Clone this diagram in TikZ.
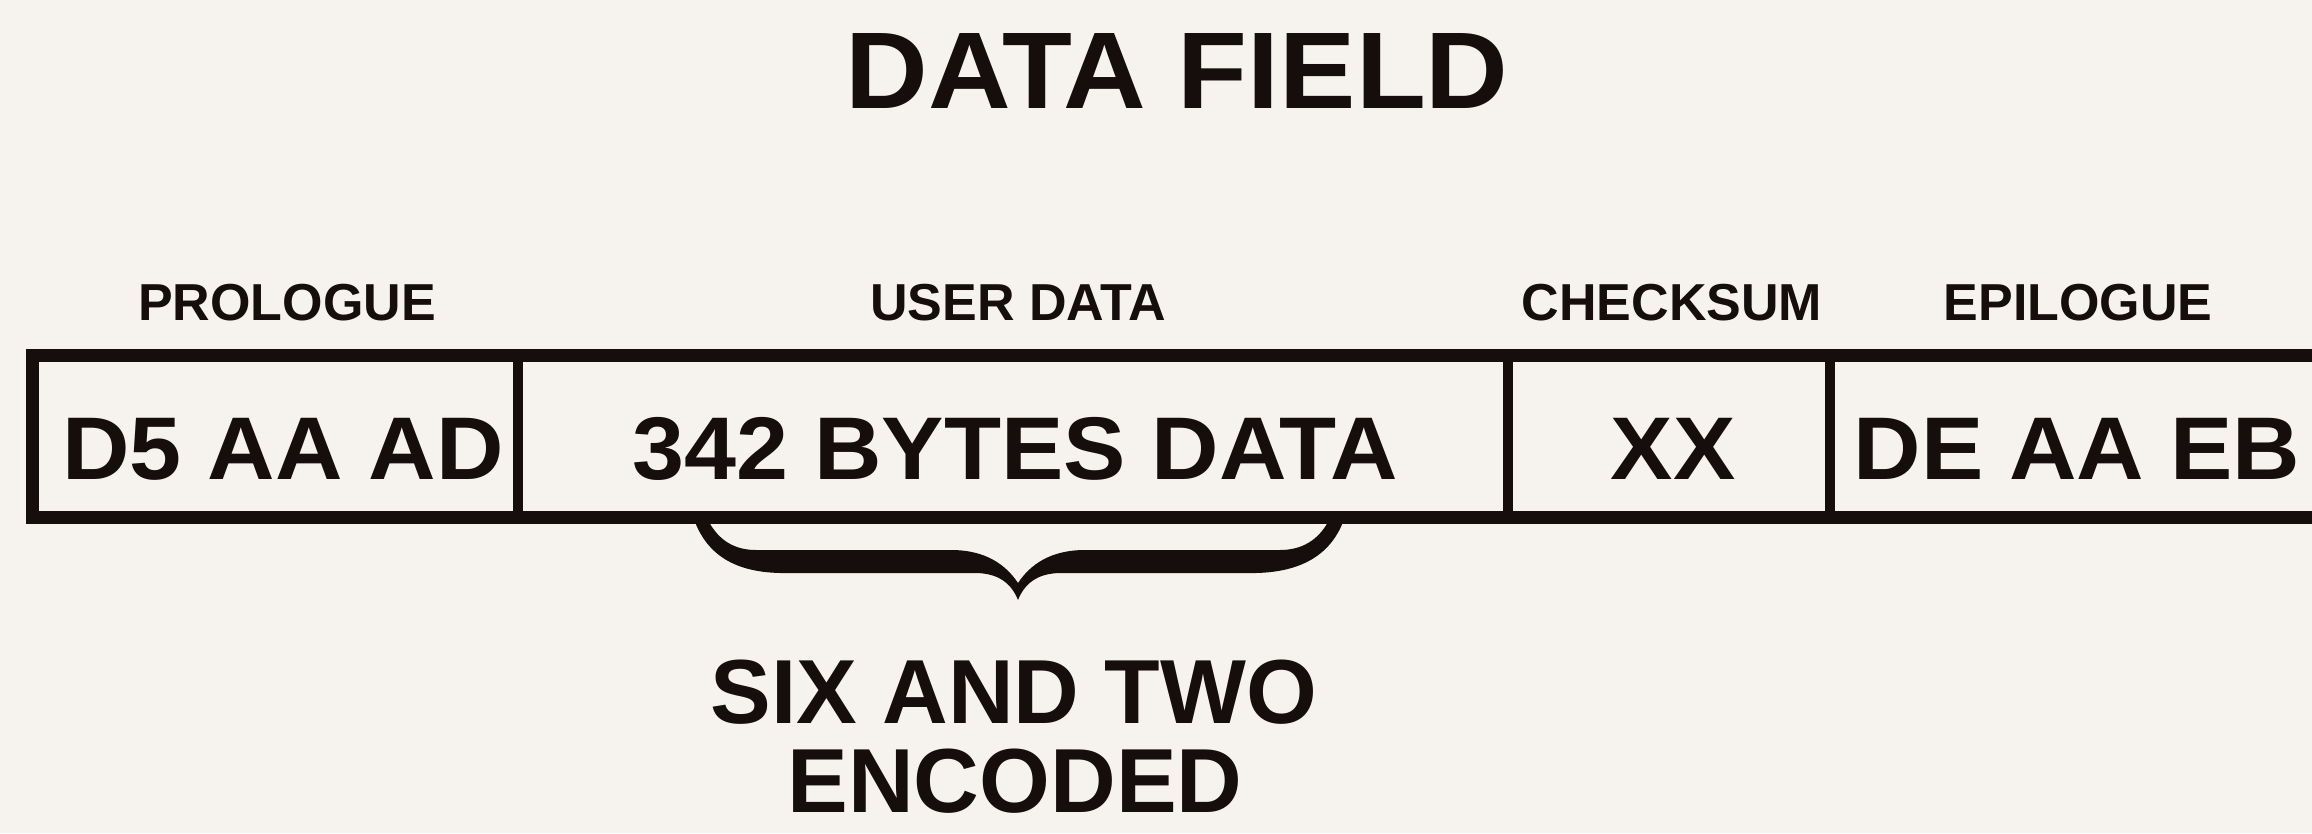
\documentclass[tikz,border=0pt]{standalone}
\usepackage{fontspec}
\setmainfont{Liberation Sans}
\newfontfamily\widebold{Liberation Sans Bold}[FakeStretch=1.05]
\definecolor{paper}{RGB}{246,243,238}
\definecolor{ink}{RGB}{22,14,12}
\begin{document}
\begin{tikzpicture}[x=1pt,y=-1pt,
  title/.style={font=\widebold\fontsize{109}{120}\selectfont, text=ink, inner sep=0pt},
  lbl/.style={font=\bfseries\fontsize{52}{60}\selectfont, text=ink, inner sep=0pt},
  cell/.style={font=\widebold\fontsize{89}{99}\selectfont, text=ink, inner sep=0pt},
  note/.style={font=\bfseries\fontsize{91}{100}\selectfont, text=ink, inner sep=0pt, align=center},
  outer/.style={draw=ink, line width=13pt},
  divider/.style={draw=ink, line width=10pt}]
\useasboundingbox (0,0) rectangle (2312,833);
\fill[paper] (0,0) rectangle (2312,833);
\begin{scope}
\clip (0,0) rectangle (2312,833);
% outer frame
\draw[outer] (32,355) rectangle (2340,517);
% dividers
\coordinate (d1t) at (518,355); \coordinate (d1b) at (518,517);
\coordinate (d2t) at (1508,355); \coordinate (d2b) at (1508,517);
\coordinate (d3t) at (1830,355); \coordinate (d3b) at (1830,517);
\draw[divider] (d1t) -- (d1b);
\draw[divider] (d2t) -- (d2b);
\draw[divider] (d3t) -- (d3b);
\end{scope}
% title
\node[title] (t) at (1177,71) {DATA FIELD};
% labels
\node[lbl] (lp) at (287,303) {PROLOGUE};
\node[lbl] (lu) at (1018,303) {USER DATA};
\node[lbl] (lc) at (1672,303) {CHECKSUM};
\node[lbl] (le) at (2078,303) {EPILOGUE};
% cell texts
\node[cell] (cp) at (283,449) {D5 AA AD};
\node[cell] (cu) at (1015,449) {342 BYTES DATA};
\node[cell] (cc) at (1673,449) {XX};
\node[cell] (ce) at (2077,449) {DE AA EB};
% brace
\fill[ink] (695,522) .. controls (708,555) and (735,572) .. (780,573) -- (975,573)
  .. controls (1000,573) and (1012,585) .. (1018,600)
  .. controls (1024,585) and (1036,573) .. (1061,573) -- (1256,573)
  .. controls (1301,572) and (1330,555) .. (1343,522) -- (1328,522)
  .. controls (1318,540) and (1302,550) .. (1280,550) -- (1085,550)
  .. controls (1050,550) and (1030,565) .. (1018,583)
  .. controls (1006,565) and (986,550) .. (951,550) -- (756,550)
  .. controls (734,550) and (719,540) .. (709,522) -- cycle;
\coordinate (tip) at (1018,600);
% note
\node[note] (n1) at (1014,692) {SIX AND TWO};
\node[note] (n2) at (1015,781) {ENCODED};
\end{tikzpicture}
\end{document}
